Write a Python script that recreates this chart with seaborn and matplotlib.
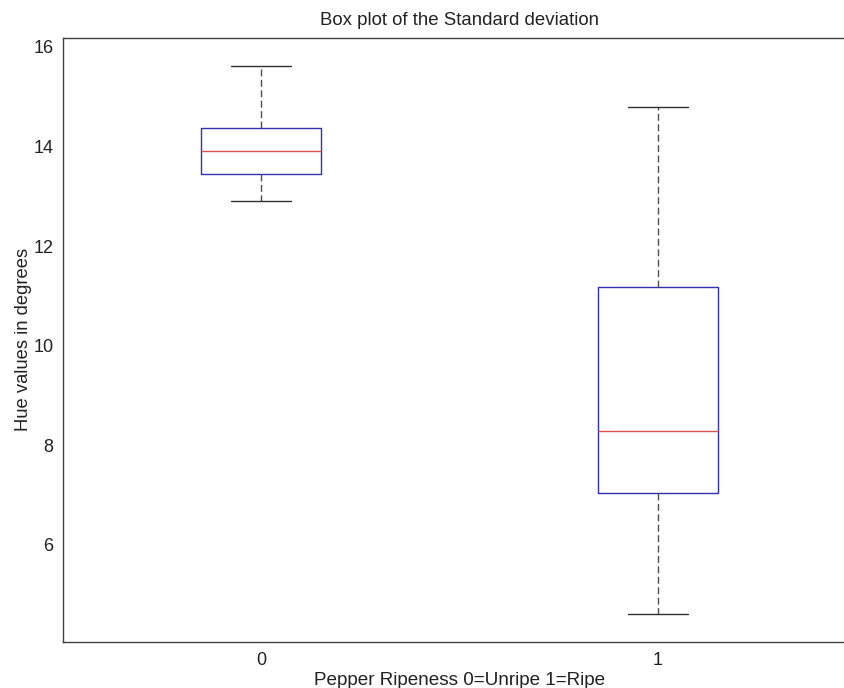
import matplotlib
matplotlib.use("Agg")
import matplotlib.pyplot as plt
import seaborn as sns
import pandas as pd

# Five-number summaries (min, Q1, median, Q3, max)
groups = ["0", "1"]
unripe_stats = [12.90, 13.44, 13.90, 14.37, 15.62]
ripe_stats = [4.61, 7.03, 8.28, 11.18, 14.80]

title = "Box plot of the Standard deviation"
xlabel = "Pepper Ripeness 0=Unripe 1=Ripe"
ylabel = "Hue values in degrees"
yticks = [6, 8, 10, 12, 14, 16]

df = pd.DataFrame({
    "group": [groups[0]] * len(unripe_stats) + [groups[1]] * len(ripe_stats),
    "value": unripe_stats + ripe_stats,
})

sns.set_style("white")
plt.rcParams["font.family"] = ["Liberation Sans", "DejaVu Sans"]

fig = plt.figure(figsize=(8.45, 6.88), dpi=100)
ax = fig.add_axes([63 / 845, 1 - 642.3 / 688, (856 - 63) / 845, (642.3 - 37.5) / 688])

blue = "#3030b0"
red = "#e05050"
dark = "#505050"

sns.boxplot(
    data=df, x="group", y="value", order=groups, ax=ax,
    width=0.303, whis=(0, 100), fill=False, linewidth=1.0,
    boxprops=dict(color=blue, linewidth=1.0),
    medianprops=dict(color=red, linewidth=1.0),
    whiskerprops=dict(color=dark, linestyle=(0, (5, 2.5)), linewidth=1.0),
    capprops=dict(color="#303030", linewidth=1.0),
    showfliers=False,
)

ax.set_xlim(-0.5, 1.5)
ax.set_ylim(4.04, 16.19)
ax.set_yticks(yticks)
ax.set_yticklabels([str(t) for t in yticks])
ax.tick_params(axis="y", direction="in", length=5, width=1, color=dark,
               labelsize=13, pad=7, labelcolor="#222222")
ax.tick_params(axis="x", length=0, labelsize=13, pad=7, labelcolor="#222222")
for s in ax.spines.values():
    s.set_color("#404040")
    s.set_linewidth(1.0)
ax.spines["right"].set_visible(False)

ax.set_title(title, fontsize=13.4, pad=9, color="#222222")
ax.set_xlabel(xlabel, fontsize=13.6, labelpad=2.5, color="#222222")
ax.set_ylabel(ylabel, fontsize=13.2, labelpad=1, color="#222222")

fig.savefig("out.png", dpi=100)
